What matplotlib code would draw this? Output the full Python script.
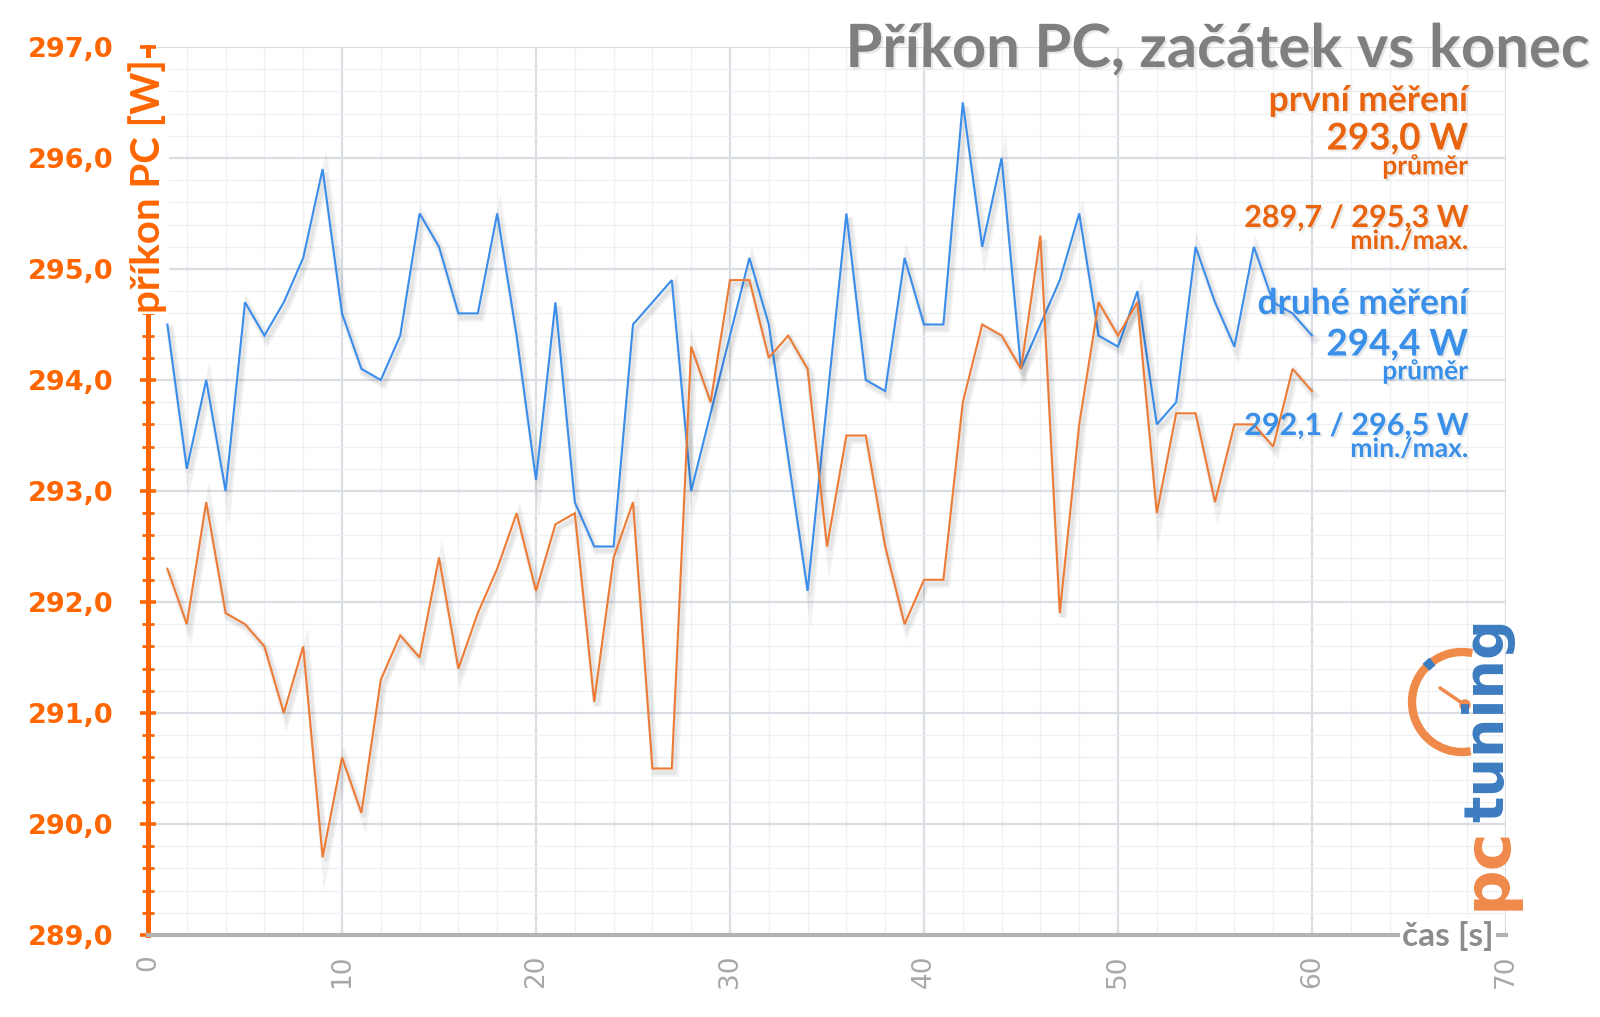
import matplotlib
matplotlib.use('Agg')
import matplotlib.pyplot as plt
import matplotlib.patheffects as pe
from matplotlib.patches import Arc, Circle
from matplotlib.ticker import MultipleLocator, FixedLocator, FuncFormatter

# ---------------- data ----------------
time_s = list(range(1, 61))
prvni_mereni = [292.3, 291.8, 292.9, 291.9, 291.8, 291.6, 291.0, 291.6, 289.7, 290.6,
                290.1, 291.3, 291.7, 291.5, 292.4, 291.4, 291.9, 292.3, 292.8, 292.1,
                292.7, 292.8, 291.1, 292.4, 292.9, 290.5, 290.5, 294.3, 293.8, 294.9,
                294.9, 294.2, 294.4, 294.1, 292.5, 293.5, 293.5, 292.5, 291.8, 292.2,
                292.2, 293.8, 294.5, 294.4, 294.1, 295.3, 291.9, 293.6, 294.7, 294.4,
                294.7, 292.8, 293.7, 293.7, 292.9, 293.6, 293.6, 293.4, 294.1, 293.9]
druhe_mereni = [294.5, 293.2, 294.0, 293.0, 294.7, 294.4, 294.7, 295.1, 295.9, 294.6,
                294.1, 294.0, 294.4, 295.5, 295.2, 294.6, 294.6, 295.5, 294.4, 293.1,
                294.7, 292.9, 292.5, 292.5, 294.5, 294.7, 294.9, 293.0, 293.7, 294.4,
                295.1, 294.5, 293.3, 292.1, 293.8, 295.5, 294.0, 293.9, 295.1, 294.5,
                294.5, 296.5, 295.2, 296.0, 294.1, 294.5, 294.9, 295.5, 294.4, 294.3,
                294.8, 293.6, 293.8, 295.2, 294.7, 294.3, 295.2, 294.7, 294.6, 294.4]
y_ticks = [289, 290, 291, 292, 293, 294, 295, 296, 297]
x_ticks = [0, 10, 20, 30, 40, 50, 60, 70]
title = "Příkon PC, začátek vs konec"
y_label = "příkon PC [W]"
x_label = "čas [s]"
first_texts = ["první měření", "293,0 W", "průměr", "289,7 / 295,3 W", "min./max."]
second_texts = ["druhé měření", "294,4 W", "průměr", "292,1 / 296,5 W", "min./max."]

# ---------------- style ----------------
ORANGE_LINE = '#EE7B35'
BLUE_LINE = '#3A8DEB'
ORANGE_AXIS = '#FF6600'
ORANGE_TXT = '#E8640F'
BLUE_TXT = '#3A90E8'
GRAY_TXT = '#7F7F7F'
FONT = ['Lato', 'DejaVu Sans']

W, H = 1600, 1017
fig = plt.figure(figsize=(W / 100, H / 100), dpi=100)
fig.patch.set_facecolor('white')

ax = fig.add_axes([148 / W, 1 - 935 / H, (1506 - 148) / W, (935 - 47) / H])
ax.set_xlim(0, 70)
ax.set_ylim(289, 297)

# grid
ax.xaxis.set_major_locator(FixedLocator(x_ticks))
ax.xaxis.set_minor_locator(MultipleLocator(2))
ax.yaxis.set_major_locator(FixedLocator(y_ticks))
ax.yaxis.set_minor_locator(MultipleLocator(0.2))
ax.grid(which='major', color='#DADDE3', linewidth=1.6, zorder=0)
ax.grid(which='minor', color='#EEF0F4', linewidth=1.0, zorder=0)
ax.set_axisbelow(True)

shadow = [pe.SimpleLineShadow(offset=(2, -3), shadow_color='#000000', alpha=0.05, linewidth=6),
          pe.SimpleLineShadow(offset=(2, -3), shadow_color='#000000', alpha=0.05, linewidth=3),
          pe.Normal()]
ax.plot(time_s, druhe_mereni, color=BLUE_LINE, linewidth=1.5, zorder=3,
        path_effects=shadow, solid_joinstyle='miter')
ax.plot(time_s, prvni_mereni, color=ORANGE_LINE, linewidth=1.5, zorder=3,
        path_effects=shadow, solid_joinstyle='miter')

# spines
for s in ['top', 'right']:
    ax.spines[s].set_visible(False)
ax.spines['left'].set_color(ORANGE_AXIS)
ax.spines['left'].set_linewidth(3.6)
ax.spines['left'].set_zorder(4)
ax.spines['bottom'].set_color('#B3B3B3')
ax.spines['bottom'].set_linewidth(3.0)
ax.spines['bottom'].set_zorder(4)

# ticks
ax.yaxis.set_major_formatter(FuncFormatter(lambda v, p: f"{v:.1f}".replace('.', ',')))
ax.tick_params(axis='y', which='major', direction='inout', length=12, width=2.6,
               color=ORANGE_AXIS, pad=19, labelsize=19.5, labelcolor=ORANGE_AXIS)
ax.tick_params(axis='y', which='minor', direction='inout', length=8, width=2.0,
               color=ORANGE_AXIS)
for lab in ax.get_yticklabels():
    lab.set_fontfamily('DejaVu Sans')
    lab.set_fontweight('bold')
ax.xaxis.set_major_formatter(FuncFormatter(lambda v, p: f"{int(v)}"))
ax.tick_params(axis='x', which='both', length=0, pad=14, labelsize=19,
               labelcolor='#A8A8A8', labelrotation=90)

# ---------------- overlay in pixel coordinates ----------------
ov = fig.add_axes([0, 0, 1, 1])
ov.set_xlim(0, W)
ov.set_ylim(H, 0)
ov.axis('off')
ov.patch.set_alpha(0)

txt_shadow = [pe.SimplePatchShadow(offset=(1.5, -1.5), alpha=0.10), pe.Normal()]

ov.text(1590, 50, title, ha='right', va='center', fontsize=43, fontweight='bold',
        color=GRAY_TXT, family=FONT, path_effects=txt_shadow)

# y label over the axis
ov.text(148, 186, y_label, ha='center', va='center', rotation=90, fontsize=29,
        fontweight='bold', color=ORANGE_AXIS, family=FONT,
        bbox=dict(facecolor='white', edgecolor='none', pad=1))
# x label over the axis
ov.text(1448, 936, x_label, ha='center', va='center', fontsize=24,
        fontweight='bold', color='#8C8C8C', family=FONT,
        bbox=dict(facecolor='white', edgecolor='none', pad=2))

# annotation block
sizes = [25.5, 26.5, 19, 22, 19]
first_y = [101, 139, 166, 218, 241]
second_y = [304, 345, 371, 426, 449]
for t, y, fs in zip(first_texts, first_y, sizes):
    ov.text(1468, y, t, ha='right', va='center', fontsize=fs, fontweight='bold',
            color=ORANGE_TXT, family=FONT, path_effects=txt_shadow)
for t, y, fs in zip(second_texts, second_y, sizes):
    ov.text(1468, y, t, ha='right', va='center', fontsize=fs, fontweight='bold',
            color=BLUE_TXT, family=FONT, path_effects=txt_shadow)

# logo
ov.add_patch(Arc((1462, 702), 100, 100, theta1=80, theta2=282, color='#F08A4B', linewidth=6))
ov.add_patch(Arc((1462, 702), 100, 100, theta1=224, theta2=234, color='#3C7CC0', linewidth=7))
ov.plot([1465, 1440], [705, 688], color='#F08A4B', linewidth=2.5, solid_capstyle='round')
ov.add_patch(Circle((1465, 705), 5, color='#F08A4B'))
ov.text(1488, 910, "pc", rotation=90, ha='center', va='bottom', fontsize=46,
        fontweight='bold', color='#F08A4B', family='DejaVu Sans')
ov.text(1488, 822, "tuning", rotation=90, ha='center', va='bottom', fontsize=40,
        fontweight='bold', color='#3C7CC0', family='DejaVu Sans')

fig.savefig('out.png', dpi=100, facecolor='white')
